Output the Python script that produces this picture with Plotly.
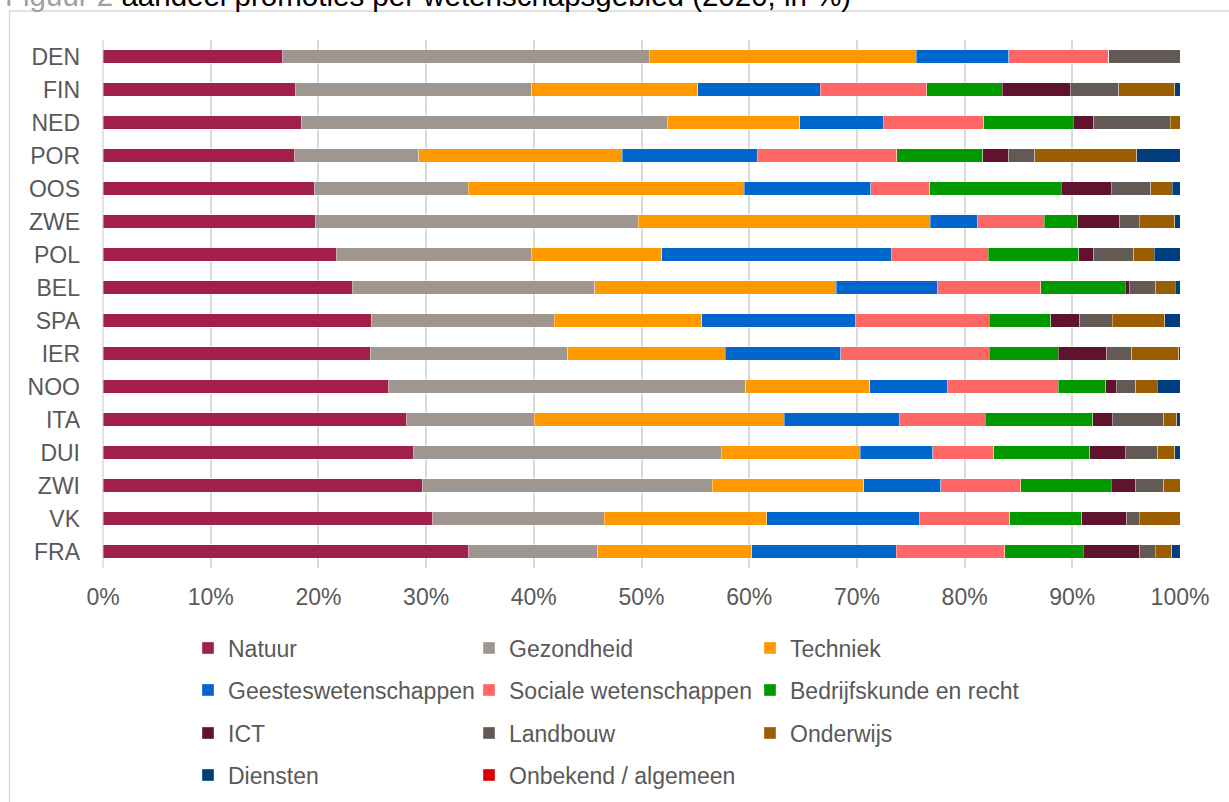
import plotly.graph_objects as go

categories = ["DEN", "FIN", "NED", "POR", "OOS", "ZWE", "POL", "BEL",
              "SPA", "IER", "NOO", "ITA", "DUI", "ZWI", "VK", "FRA"]

natuur = [16.7, 17.9, 18.4, 17.8, 19.6, 19.7, 21.7, 23.2, 24.9, 24.8, 26.5, 28.2, 28.85, 29.65, 30.6, 33.95]
gezondheid = [34.0, 21.9, 34.0, 11.5, 14.3, 30.0, 18.1, 22.5, 17.0, 18.35, 33.1, 11.85, 28.55, 26.9, 15.95, 12.0]
techniek = [24.8, 15.4, 12.3, 18.9, 25.6, 27.1, 12.1, 22.4, 13.65, 14.6, 11.5, 23.2, 12.9, 14.1, 15.1, 14.3]
geesteswetenschappen = [8.6, 11.4, 7.8, 12.6, 11.7, 4.4, 21.35, 9.4, 14.3, 10.7, 7.2, 10.7, 6.75, 7.15, 14.15, 13.4]
sociale_wetenschappen = [9.3, 9.9, 9.3, 12.9, 5.5, 6.2, 9.0, 9.6, 12.4, 13.8, 10.3, 7.95, 5.65, 7.4, 8.4, 10.1]
bedrijfskunde_recht = [0, 7.0, 8.3, 8.0, 12.2, 3.1, 8.4, 7.85, 5.7, 6.4, 4.4, 10.0, 8.9, 8.4, 6.7, 7.25]
ict = [0, 6.3, 1.9, 2.4, 4.6, 3.9, 1.4, 0.4, 2.7, 4.5, 1.0, 1.8, 3.3, 2.3, 4.15, 5.25]
landbouw = [6.6, 4.5, 7.1, 2.4, 3.7, 1.8, 3.7, 2.45, 3.0, 2.3, 1.8, 4.8, 3.05, 2.6, 1.15, 1.45]
onderwijs = [0, 5.2, 0.9, 9.5, 2.0, 3.3, 1.9, 1.8, 4.9, 4.4, 2.0, 1.2, 1.55, 1.5, 3.8, 1.55]
diensten = [0, 0.5, 0, 4.0, 0.7, 0.5, 2.4, 0.45, 1.4, 0.1, 2.1, 0.3, 0.5, 0, 0, 0.75]
onbekend = [0] * 16

x_tick_vals = [0, 10, 20, 30, 40, 50, 60, 70, 80, 90, 100]
x_tick_labels = ["0%", "10%", "20%", "30%", "40%", "50%", "60%", "70%", "80%", "90%", "100%"]

series = [
    ("Natuur", natuur, "#A01F4B", "legend"),
    ("Gezondheid", gezondheid, "#A09690", "legend"),
    ("Techniek", techniek, "#FF9900", "legend"),
    ("Geesteswetenschappen", geesteswetenschappen, "#0066CC", "legend2"),
    ("Sociale wetenschappen", sociale_wetenschappen, "#FF6666", "legend2"),
    ("Bedrijfskunde en recht", bedrijfskunde_recht, "#009900", "legend2"),
    ("ICT", ict, "#60132E", "legend3"),
    ("Landbouw", landbouw, "#645A55", "legend3"),
    ("Onderwijs", onderwijs, "#9A5E00", "legend3"),
    ("Diensten", diensten, "#003E7E", "legend4"),
    ("Onbekend / algemeen", onbekend, "#DD0000", "legend4"),
]

FONT = "Liberation Sans, Arial, sans-serif"
GRAY = "#595959"

fig = go.Figure()
for name, vals, color, lg in series:
    fig.add_trace(go.Bar(
        y=categories, x=vals, name=name, orientation="h",
        marker=dict(color=color, line=dict(width=0.6, color="rgba(255,255,255,0.6)")),
        legend=lg,
    ))

W, H = 1229, 802
L, R, T, B = 103, 49, 40, 234
pw, ph = W - L - R, H - T - B


def px_to_paper_x(px):
    return (px - L) / pw


def px_to_paper_y(py):
    return (H - B - py) / ph


def legend_cfg(row_y):
    return dict(
        orientation="h",
        xref="container", x=188 / W, xanchor="left",
        yref="container", y=1 - row_y / H, yanchor="middle",
        entrywidth=236, entrywidthmode="pixels",
        font=dict(family=FONT, size=23, color=GRAY),
        bgcolor="rgba(0,0,0,0)", traceorder="normal",
    )


fig.update_layout(
    width=W, height=H,
    margin=dict(l=L, r=R, t=T, b=B, autoexpand=False),
    barmode="stack", barnorm="percent", bargap=0.58,
    plot_bgcolor="white", paper_bgcolor="white",
    font=dict(family=FONT, size=23, color=GRAY),
    showlegend=True,
    legend=legend_cfg(648),
    legend2=legend_cfg(690),
    legend3=legend_cfg(733),
    legend4=legend_cfg(775),
    xaxis=dict(
        range=[0, 100], tickmode="array", tickvals=x_tick_vals, ticktext=x_tick_labels,
        showgrid=True, gridcolor="#D9D9D9", gridwidth=1.5,
        zeroline=False, showline=False,
        tickfont=dict(family=FONT, size=23, color=GRAY),
        ticklabelstandoff=13, fixedrange=True,
    ),
    yaxis=dict(
        categoryorder="array", categoryarray=categories, autorange="reversed",
        showgrid=False, zeroline=False, showline=False,
        tickfont=dict(family=FONT, size=23, color=GRAY),
        ticklabelstandoff=22,
    ),
    shapes=[
        dict(type="line", xref="paper", yref="paper",
             x0=0, x1=0, y0=0, y1=1,
             line=dict(color="#D9D9D9", width=1.5), layer="below"),
        dict(type="rect", xref="paper", yref="paper",
             x0=px_to_paper_x(9.5), x1=px_to_paper_x(1245),
             y0=px_to_paper_y(820), y1=px_to_paper_y(11),
             line=dict(color="#D9D9D9", width=1.3), layer="below"),
    ],
    annotations=[
        dict(
            xref="paper", yref="paper",
            x=px_to_paper_x(3), y=px_to_paper_y(-4.5),
            xanchor="left", yanchor="middle", showarrow=False,
            text="<span style='color:#A5A09C'>Figuur 2</span> aandeel promoties per wetenschapsgebied (2020, in %)",
            font=dict(family=FONT, size=29.5, color="#000000"),
        )
    ],
)

fig.write_html("out.html")
